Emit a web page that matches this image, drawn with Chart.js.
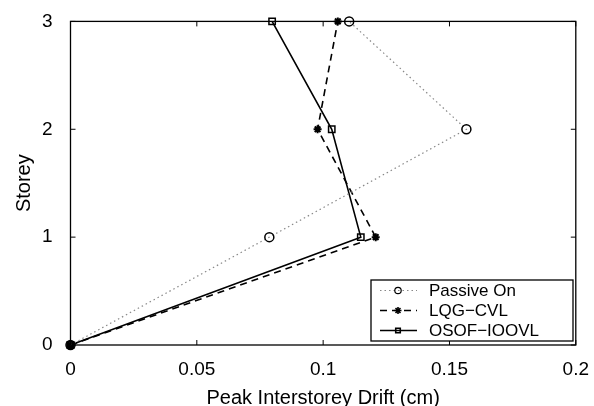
<!DOCTYPE html>
<html lang="en">
<head>
    <meta charset="UTF-8">
    <title>Peak Interstorey Drift</title>
    <script src="https://cdn.jsdelivr.net/npm/chart.js"></script>
    <style>
        body { margin: 0; background: #fff; }
        #wrap { width: 594px; height: 406px; }
    </style>
</head>
<body>
    <div id="wrap"><canvas id="driftChart" width="594" height="406"></canvas></div>

    <script>
        // Data
        const storeys = [0, 1, 2, 3];
        const passiveOn = [0, 0.0787, 0.1567, 0.1103];
        const lqgCvl = [0, 0.1208, 0.0978, 0.1058];
        const osofIoovl = [0, 0.1149, 0.1034, 0.0798];
        const xTicks = [0, 0.05, 0.1, 0.15, 0.2];
        const yTicks = [0, 1, 2, 3];
        const seriesNames = ['Passive On', 'LQG\u2212CVL', 'OSOF\u2212IOOVL'];

        const FONT = 'Liberation Sans, Arial, Helvetica, sans-serif';

        function toPoints(xs) {
            return xs.map((x, i) => ({ x: x, y: storeys[i] }));
        }

        // box + inward tick marks, matlab style
        const framePlugin = {
            id: 'frame',
            afterDatasetsDraw(chart) {
                const { ctx, chartArea: a, scales } = chart;
                ctx.save();
                ctx.strokeStyle = '#000';
                ctx.lineWidth = 1.3;
                ctx.strokeRect(a.left, a.top, a.right - a.left, a.bottom - a.top);
                ctx.lineWidth = 1;
                const len = 5;
                ctx.beginPath();
                xTicks.forEach(v => {
                    const px = scales.x.getPixelForValue(v);
                    ctx.moveTo(px, a.bottom); ctx.lineTo(px, a.bottom - len);
                    ctx.moveTo(px, a.top); ctx.lineTo(px, a.top + len);
                });
                yTicks.forEach(v => {
                    const py = scales.y.getPixelForValue(v);
                    ctx.moveTo(a.left, py); ctx.lineTo(a.left + len, py);
                    ctx.moveTo(a.right, py); ctx.lineTo(a.right - len, py);
                });
                ctx.stroke();
                ctx.restore();
            },
            afterDraw(chart) {
                // legend box in lower right
                const { ctx } = chart;
                const bx = 371, by = 280, bw = 202, bh = 61;
                ctx.save();
                ctx.fillStyle = '#fff';
                ctx.fillRect(bx, by, bw, bh);
                ctx.strokeStyle = '#000';
                ctx.lineWidth = 1.3;
                ctx.strokeRect(bx, by, bw, bh);
                chart.data.datasets.forEach((ds, i) => {
                    const cy = by + 10.5 + i * 20;
                    ctx.strokeStyle = ds.borderColor;
                    ctx.lineWidth = ds.borderWidth;
                    ctx.setLineDash(ds.borderDash || []);
                    ctx.beginPath();
                    ctx.moveTo(380, cy); ctx.lineTo(417, cy);
                    ctx.stroke();
                    ctx.setLineDash([]);
                    ctx.strokeStyle = '#000';
                    ctx.fillStyle = ds.pointBackgroundColor;
                    Chart.helpers.drawPoint(ctx, {
                        pointStyle: ds.pointStyle,
                        radius: ds.pointStyle === 'star' ? 3.5 : 3.2,
                        borderWidth: ds.pointBorderWidth
                    }, 398, cy);
                    ctx.fillStyle = '#000';
                    ctx.font = '17px ' + FONT;
                    ctx.textBaseline = 'middle';
                    ctx.fillText(ds.label, 429, cy + 1);
                });
                ctx.restore();
            }
        };

        const ctx = document.getElementById('driftChart').getContext('2d');
        const chart = new Chart(ctx, {
            type: 'line',
            data: {
                datasets: [
                    {
                        label: seriesNames[0],
                        data: toPoints(passiveOn),
                        borderColor: '#888',
                        borderWidth: 1.2,
                        borderDash: [1.5, 3],
                        pointStyle: 'circle',
                        pointRadius: 4.5,
                        pointBorderWidth: 1.5,
                        pointBorderColor: '#000',
                        pointBackgroundColor: 'rgba(0,0,0,0)'
                    },
                    {
                        label: seriesNames[1],
                        data: toPoints(lqgCvl),
                        borderColor: '#000',
                        borderWidth: 1.6,
                        borderDash: [7, 5],
                        pointStyle: 'star',
                        pointRadius: 4,
                        pointBorderWidth: 2,
                        pointBorderColor: '#000',
                        pointBackgroundColor: '#000'
                    },
                    {
                        label: seriesNames[2],
                        data: toPoints(osofIoovl),
                        borderColor: '#000',
                        borderWidth: 1.6,
                        pointStyle: 'rect',
                        pointRadius: 4.5,
                        pointBorderWidth: 1.5,
                        pointBorderColor: '#000',
                        pointBackgroundColor: 'rgba(0,0,0,0)'
                    }
                ]
            },
            options: {
                responsive: false,
                animation: false,
                clip: false,
                layout: { padding: { top: 20, right: 16.5, left: 8, bottom: 0 } },
                plugins: {
                    legend: { display: false },
                    tooltip: { enabled: false }
                },
                scales: {
                    x: {
                        type: 'linear',
                        min: 0,
                        max: 0.2,
                        afterBuildTicks: s => { s.ticks = xTicks.map(v => ({ value: v })); },
                        afterFit: s => { s.height = 61; },
                        grid: { display: false },
                        border: { display: false },
                        ticks: {
                            color: '#000',
                            padding: 5,
                            font: { family: FONT, size: 19 },
                            callback: v => String(v)
                        },
                        title: {
                            display: true,
                            text: 'Peak Interstorey Drift (cm)',
                            color: '#000',
                            font: { family: FONT, size: 20 },
                            padding: { top: 0, bottom: -4 }
                        }
                    },
                    y: {
                        type: 'linear',
                        min: 0,
                        max: 3,
                        afterBuildTicks: s => { s.ticks = yTicks.map(v => ({ value: v })); },
                        afterFit: s => { s.width = 62.5; },
                        grid: { display: false },
                        border: { display: false },
                        ticks: {
                            color: '#000',
                            padding: 10,
                            font: { family: FONT, size: 19 }
                        },
                        title: {
                            display: true,
                            text: 'Storey',
                            color: '#000',
                            font: { family: FONT, size: 20 },
                            padding: { bottom: 8 }
                        }
                    }
                }
            },
            plugins: [framePlugin]
        });
    </script>
</body>
</html>
